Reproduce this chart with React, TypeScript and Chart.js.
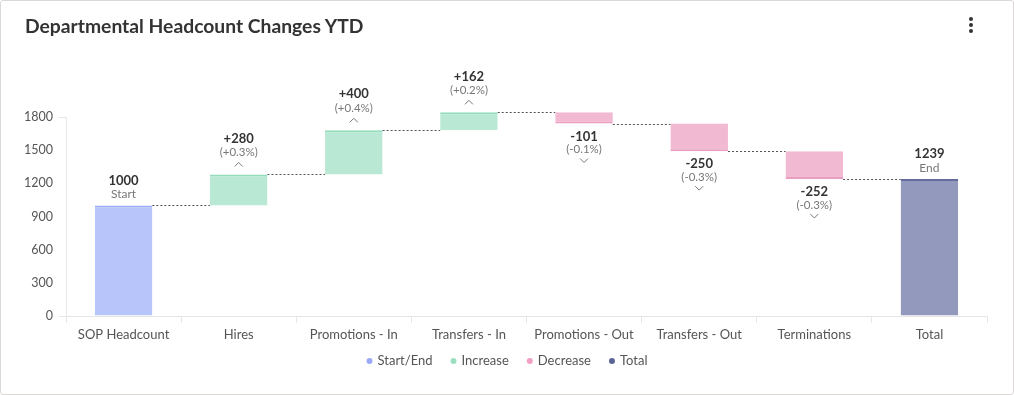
import React, { useEffect, useRef } from 'react';
import { Chart, registerables } from 'chart.js';

Chart.register(...registerables);

const FONT = 'Lato, "Noto Sans", sans-serif';

const categories = [
  'SOP Headcount',
  'Hires',
  'Promotions - In',
  'Transfers - In',
  'Promotions - Out',
  'Transfers - Out',
  'Terminations',
  'Total',
];
const startValue = 1000;
const changes = [280, 400, 162, -101, -250, -252];
const changePct = ['+0.3%', '+0.4%', '+0.2%', '-0.1%', '-0.3%', '-0.3%'];
const endValue = 1239;
const legendLabels = ['Start/End', 'Increase', 'Decrease', 'Total'];
const legendColors = ['#9aaaf9', '#9bdfc0', '#f09fc4', '#5c6496'];
const yMin = 0;
const yMax = 1800;
const yStep = 300;

// cumulative levels after each bar
const levels: number[] = [startValue];
changes.forEach((c) => levels.push(levels[levels.length - 1] + c));
levels.push(endValue);

const n = categories.length;
const startData: any[] = categories.map((_, i) => (i === 0 ? [0, startValue] : null));
const incData: any[] = categories.map((_, i) =>
  i >= 1 && i <= changes.length && changes[i - 1] > 0 ? [levels[i - 1], levels[i]] : null
);
const decData: any[] = categories.map((_, i) =>
  i >= 1 && i <= changes.length && changes[i - 1] < 0 ? [levels[i - 1], levels[i]] : null
);
const totalData: any[] = categories.map((_, i) => (i === n - 1 ? [0, endValue] : null));

const datasetFor = (i: number) => {
  if (i === 0) return 0;
  if (i === n - 1) return 3;
  return changes[i - 1] > 0 ? 1 : 2;
};

const labelPlugin = {
  id: 'wfLabels',
  afterDatasetsDraw(chart: any) {
    const ctx = chart.ctx as CanvasRenderingContext2D;
    const ys = chart.scales.y;
    const bars = categories.map((_, i) => chart.getDatasetMeta(datasetFor(i)).data[i]);
    ctx.save();
    // connectors
    ctx.strokeStyle = '#555';
    ctx.lineWidth = 1;
    ctx.setLineDash([2, 2]);
    for (let i = 0; i < n - 1; i++) {
      const a = bars[i];
      const b = bars[i + 1];
      const py = Math.round(ys.getPixelForValue(levels[i])) + 0.5;
      ctx.beginPath();
      ctx.moveTo(a.x + a.width / 2, py);
      ctx.lineTo(b.x - b.width / 2, py);
      ctx.stroke();
    }
    ctx.setLineDash([]);
    ctx.textAlign = 'center';
    ctx.textBaseline = 'middle';
    const chevron = (cx: number, cy: number, up: boolean) => {
      ctx.beginPath();
      ctx.strokeStyle = '#777';
      ctx.lineWidth = 1;
      const d = up ? 1 : -1;
      ctx.moveTo(cx - 4, cy + 2 * d);
      ctx.lineTo(cx, cy - 2 * d);
      ctx.lineTo(cx + 4, cy + 2 * d);
      ctx.stroke();
    };
    bars.forEach((bar: any, i: number) => {
      const top = Math.min(bar.y, bar.base);
      const bottom = Math.max(bar.y, bar.base);
      const cx = bar.x;
      if (i === 0 || i === n - 1) {
        ctx.fillStyle = '#333';
        ctx.font = `bold 13px ${FONT}`;
        ctx.fillText(String(i === 0 ? startValue : endValue), cx, top - 25);
        ctx.fillStyle = '#777';
        ctx.font = `12px ${FONT}`;
        ctx.fillText(i === 0 ? 'Start' : 'End', cx, top - 11);
        return;
      }
      const c = changes[i - 1];
      const txt = (c > 0 ? '+' : '') + c;
      if (c > 0) {
        ctx.fillStyle = '#333';
        ctx.font = `bold 13px ${FONT}`;
        ctx.fillText(txt, cx, top - 36);
        ctx.fillStyle = '#777';
        ctx.font = `11.5px ${FONT}`;
        ctx.fillText(`(${changePct[i - 1]})`, cx, top - 22);
        chevron(cx, top - 10, true);
      } else {
        ctx.fillStyle = '#333';
        ctx.font = `bold 13px ${FONT}`;
        ctx.fillText(txt, cx, bottom + 13);
        ctx.fillStyle = '#777';
        ctx.font = `11.5px ${FONT}`;
        ctx.fillText(`(${changePct[i - 1]})`, cx, bottom + 26);
        chevron(cx, bottom + 37, false);
      }
    });
    ctx.restore();
  },
  afterDraw(chart: any) {
    // legend row
    const ctx = chart.ctx as CanvasRenderingContext2D;
    ctx.save();
    ctx.font = `13px ${FONT}`;
    ctx.textBaseline = 'middle';
    ctx.textAlign = 'left';
    const widths = legendLabels.map((t) => ctx.measureText(t).width);
    const gap = 18;
    const total = widths.reduce((s, w) => s + 11 + w, 0) + gap * (legendLabels.length - 1);
    let x = chart.width / 2 - total / 2;
    const cy = 361;
    legendLabels.forEach((t, i) => {
      ctx.beginPath();
      ctx.fillStyle = legendColors[i];
      ctx.arc(x + 3, cy, 3, 0, Math.PI * 2);
      ctx.fill();
      ctx.fillStyle = '#555';
      ctx.fillText(t, x + 11, cy);
      x += 11 + widths[i] + gap;
    });
    ctx.restore();
  },
};

export default function App() {
  const ref = useRef<HTMLCanvasElement>(null);
  useEffect(() => {
    document.body.style.margin = '0';
    const common = {
      grouped: false,
      clip: false as any,
      borderSkipped: false as any,
      barPercentage: 0.5,
      categoryPercentage: 1,
    };
    const chart = new Chart(ref.current as HTMLCanvasElement, {
      type: 'bar',
      data: {
        labels: categories,
        datasets: [
          {
            ...common,
            label: legendLabels[0],
            data: startData,
            backgroundColor: '#b7c5fb',
            borderColor: '#9dadf8',
            borderWidth: { top: 2, right: 0, bottom: 0, left: 0 },
          } as any,
          {
            ...common,
            label: legendLabels[1],
            data: incData,
            backgroundColor: '#b9e9d4',
            borderColor: '#94dcbb',
            borderWidth: { top: 2, right: 0, bottom: 0, left: 0 },
          } as any,
          {
            ...common,
            label: legendLabels[2],
            data: decData,
            backgroundColor: '#f1b9d2',
            borderColor: '#eb9ec0',
            borderWidth: { top: 0, right: 0, bottom: 2, left: 0 },
          } as any,
          {
            ...common,
            label: legendLabels[3],
            data: totalData,
            backgroundColor: '#9299bd',
            borderColor: '#646d9e',
            borderWidth: { top: 2, right: 0, bottom: 0, left: 0 },
          } as any,
        ],
      },
      options: {
        responsive: false,
        animation: false,
        layout: { padding: { top: 117, left: 0, right: 27, bottom: 39 } },
        plugins: {
          tooltip: { enabled: false },
          legend: { display: false },
        },
        scales: {
          x: {
            grid: {
              display: true,
              drawOnChartArea: false,
              offset: true,
              tickLength: 7,
              color: '#e6e6e6',
            },
            border: { display: true, color: '#e6e6e6' },
            ticks: { color: '#555', font: { family: FONT, size: 13 }, padding: 4, maxRotation: 0 },
            afterFit: (s: any) => {
              s.height = 40;
            },
          },
          y: {
            min: yMin,
            max: yMax,
            grid: {
              drawOnChartArea: false,
              tickLength: 7,
              color: (c: any) =>
                c.index === 0 || c.index === (yMax - yMin) / yStep ? '#e6e6e6' : 'rgba(0,0,0,0)',
            },
            border: { display: true, color: '#e6e6e6' },
            ticks: {
              stepSize: yStep,
              color: '#555',
              font: { family: FONT, size: 12.5 },
              padding: 6,
              callback: (v: any) => String(v),
            },
            afterFit: (s: any) => {
              s.width = 66;
            },
          },
        },
      },
      plugins: [labelPlugin],
    });
    return () => chart.destroy();
  }, []);

  return (
    <div style={{ position: 'relative', width: 1014, height: 395, background: '#fff', fontFamily: FONT }}>
      <canvas ref={ref} width={1014} height={395} style={{ position: 'absolute', left: 0, top: 0 }} />
      <div
        style={{
          position: 'absolute',
          left: 25,
          top: 13,
          fontSize: 19.3,
          lineHeight: '26px',
          fontWeight: 700,
          color: '#333',
          whiteSpace: 'nowrap',
        }}
      >
        Departmental Headcount Changes YTD
      </div>
      <div style={{ position: 'absolute', left: 969, top: 17, width: 4 }}>
        {[0, 1, 2].map((k) => (
          <div
            key={k}
            style={{ width: 4, height: 4, borderRadius: 2, background: '#333', marginBottom: 2 }}
          />
        ))}
      </div>
      <div
        style={{
          position: 'absolute',
          inset: 0,
          border: '1px solid #ddd8d8',
          borderRadius: 3,
          boxSizing: 'border-box',
          pointerEvents: 'none',
        }}
      />
    </div>
  );
}
